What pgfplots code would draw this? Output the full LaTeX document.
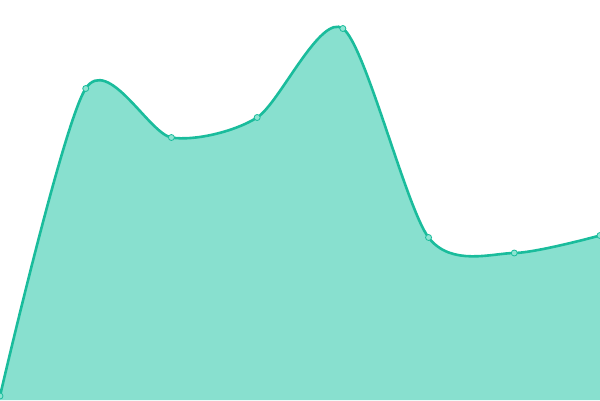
\documentclass[border=0pt]{standalone}
\usepackage{pgfplots}
\pgfplotsset{compat=1.18}
\definecolor{lineC}{HTML}{1ABC9C}
\definecolor{fillC}{HTML}{88E0CF}
\definecolor{markC}{HTML}{8EE4D2}
\begin{document}
\begin{tikzpicture}
\begin{axis}[
    width=600pt, height=400pt,
    scale only axis,
    hide axis,
    xmin=0, xmax=7,
    ymin=0, ymax=400,
    clip=true,
]
% area underneath
\addplot[smooth, tension=0.47, fill=fillC, draw=none] coordinates {
(0,4) (1,311.5) (2,262.5) (3,282.5) (4,371.5) (5,162.5) (6,147) (7,164.5)
} \closedcycle;
% outline
\addplot[smooth, tension=0.47, color=lineC, line width=2.6pt,
    mark=*, mark size=3pt,
    mark options={fill=markC, draw=lineC, line width=0.8pt, solid}]
coordinates {
(0,4) (1,311.5) (2,262.5) (3,282.5) (4,371.5) (5,162.5) (6,147) (7,164.5)
};
\end{axis}
\pgfresetboundingbox
\path (0,0) rectangle (600pt,400pt);
\end{tikzpicture}
\end{document}
